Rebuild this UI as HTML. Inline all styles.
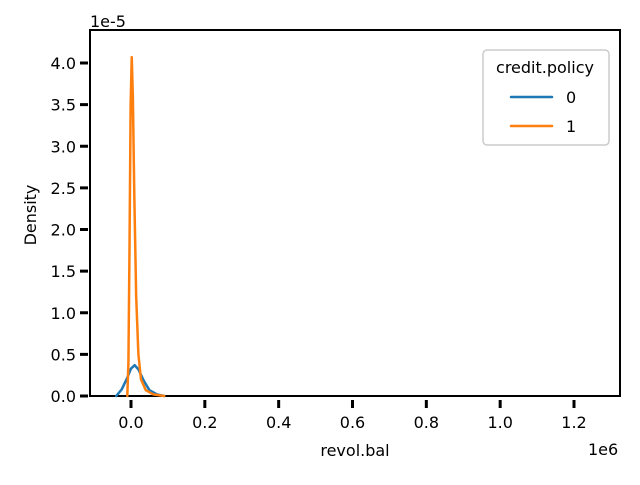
<!DOCTYPE html>
<html><head><meta charset="utf-8"><style>
body{margin:0;background:#fff}
svg text{font-family:"Comic Sans MS","DejaVu Sans","Liberation Sans",sans-serif;fill:#000}
</style></head><body>
<svg width="640" height="480" xmlns="http://www.w3.org/2000/svg">
<g id="plot"></g>
</svg>
<script>
const xTicks=[0,0.2,0.4,0.6,0.8,1.0,1.2];
const xTickLabels=["0.0","0.2","0.4","0.6","0.8","1.0","1.2"];
const yTicks=[0,0.5,1.0,1.5,2.0,2.5,3.0,3.5,4.0];
const yTickLabels=["0.0","0.5","1.0","1.5","2.0","2.5","3.0","3.5","4.0"];
// x in thousands, density in 1e-5
const orangeX=[-10,-7,-4,-1,2,5,9,14,20,27,40,60,90];
const orangeY=[0,0.4,1.8,3.5,4.07,3.6,2.4,1.2,0.5,0.2,0.07,0.02,0];
const blueX=[-40,-25,-10,0,10,20,35,50,70,90];
const blueY=[0,0.08,0.22,0.33,0.37,0.32,0.18,0.07,0.02,0];
const L=90,R=620,T=30,B=396;
const sx=v=>131+v/1.2e6*443;
const sy=v=>B-v/4.0*333;
const ns="http://www.w3.org/2000/svg";
const g=document.getElementById('plot');
function mk(t,a,txt){const e=document.createElementNS(ns,t);for(const k in a)e.setAttribute(k,a[k]);if(txt!=null)e.textContent=txt;g.appendChild(e);return e;}
function line(pts,col,w,name){const e=mk('polyline',{points:pts.map(p=>p.join(',')).join(' '),fill:'none',stroke:col,'stroke-width':w,'stroke-linejoin':'round','stroke-linecap':'round'});return e;}
let f=mk('rect',{x:L,y:T,width:R-L,height:B-T,fill:'none',stroke:'#000','stroke-width':2});

xTicks.forEach((t,i)=>{const x=sx(t*1e6);
 let tk=mk('line',{x1:x,y1:400,x2:x,y2:408,stroke:'#000','stroke-width':3});
 
 let lb=mk('text',{x:x,y:428,'text-anchor':'middle','font-size':16},xTickLabels[i]);
 });
yTicks.forEach((t,i)=>{const y=sy(t);
 let tk=mk('line',{x1:80,y1:y,x2:88,y2:y,stroke:'#000','stroke-width':3});
 
 let lb=mk('text',{x:76,y:y+6,'text-anchor':'end','font-size':16},yTickLabels[i]);
 });
let t1=mk('text',{x:90,y:27,'font-size':16},'1e-5');
let t2=mk('text',{x:588,y:455,'font-size':16},'1e6');
let t3=mk('text',{x:355,y:456,'text-anchor':'middle','font-size':16},'revol.bal');
let t4=mk('text',{x:36,y:215,'text-anchor':'middle','font-size':16,transform:'rotate(-90 36 215)'},'Density');
line(blueX.map((v,i)=>[sx(v*1000),sy(blueY[i])]),'#1f77b4',2.5,'series-0-curve');
line(orangeX.map((v,i)=>[sx(v*1000),sy(orangeY[i])]),'#ff7f0e',2.5,'series-1-curve');
let lg=mk('rect',{x:483,y:50,width:126,height:95,rx:4,fill:'#fff',stroke:'#ccc','stroke-width':1.5});

let lt=mk('text',{x:545,y:73,'text-anchor':'middle','font-size':16},'credit.policy');
line([[511,97],[552,97]],'#1f77b4',2.5,'legend-swatch-0');
line([[511,126],[552,126]],'#ff7f0e',2.5,'legend-swatch-1');
let l0=mk('text',{x:566,y:103,'font-size':16},'0');
let l1=mk('text',{x:566,y:132,'font-size':16},'1');
</script>
</body></html>
